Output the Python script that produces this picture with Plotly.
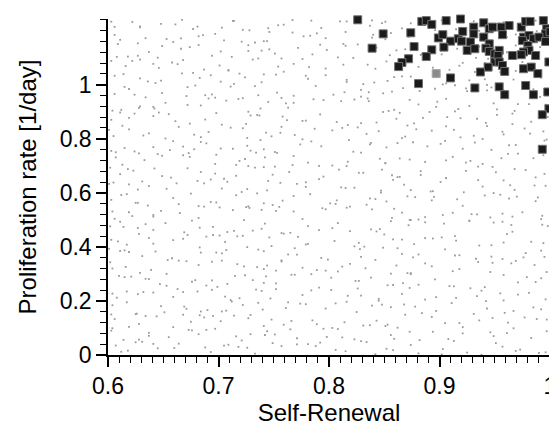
import plotly.graph_objects as go

# ---- accepted parameter sets (black squares) ----
acc_x = [0.826, 0.849, 0.839, 0.874, 0.884, 0.888, 0.893, 0.899, 0.877, 0.893,
         0.888, 0.872, 0.866, 0.863, 0.881,
         0.906, 0.919, 0.903, 0.910, 0.904, 0.917, 0.920, 0.921, 0.931, 0.931,
         0.940, 0.928, 0.925, 0.932, 0.940, 0.945, 0.948, 0.945, 0.942, 0.945,
         0.950, 0.950, 0.944, 0.937, 0.910, 0.932,
         0.956, 0.963, 0.957, 0.974, 0.978, 0.982, 0.994, 0.997, 0.996, 1.000,
         0.976, 0.981, 0.985, 0.990, 0.996, 0.975, 0.980, 0.981, 0.976, 0.987,
         0.954, 0.953, 0.966, 0.974, 0.954, 0.957, 0.959, 0.976, 0.983, 0.989,
         0.999, 0.954, 0.959, 0.978, 0.985, 0.998, 0.999, 0.993, 0.993]
acc_y = [1.240, 1.188, 1.135, 1.192, 1.234, 1.237, 1.223, 1.173, 1.141, 1.129,
         1.104, 1.096, 1.082, 1.067, 1.004,
         1.237, 1.243, 1.185, 1.161, 1.139, 1.170, 1.161, 1.197, 1.213, 1.188,
         1.229, 1.158, 1.127, 1.133, 1.176, 1.207, 1.213, 1.151, 1.135, 1.123,
         1.114, 1.084, 1.065, 1.047, 1.025, 0.988,
         1.213, 1.219, 1.185, 1.213, 1.234, 1.234, 1.237, 1.207, 1.188, 1.196,
         1.176, 1.182, 1.170, 1.176, 1.160, 1.163, 1.145, 1.127, 1.121, 1.108,
         1.127, 1.108, 1.108, 1.111, 1.084, 1.071, 1.049, 1.059, 1.065, 1.041,
         1.084, 0.992, 0.963, 0.997, 0.963, 0.973, 0.911, 0.889, 0.761]

# ---- reference parameter set (gray square) ----
ref_x = [0.897]
ref_y = [1.041]

# ---- sampled parameter space (small gray dots), in thousandths ----
bg_x = [
    612, 874, 733, 951, 688, 806, 641, 990, 757, 903, 625, 842, 718, 969, 781, 660, 925, 705, 858, 792,
    637, 823, 689, 946, 771, 604, 882, 729, 997, 655, 808, 913, 742, 676, 859, 961, 716, 795, 628, 894,
    619, 748, 905, 683, 831, 977, 702, 862, 644, 789, 936, 727, 851, 668, 814, 988, 759, 695, 921, 843,
    651, 797, 942, 707, 868, 626, 763, 985, 684, 839, 911, 740, 603, 878, 816, 959, 722, 671, 897, 774,
    608, 739, 887, 663, 955, 817, 694, 845, 632, 776, 928, 711, 981, 659, 802, 866, 747, 617, 934, 826,
    676, 853, 715, 992, 647, 784, 909, 731, 615, 867, 958, 699, 824, 743, 881, 637, 971, 766, 689, 838,
    629, 744, 918, 671, 808, 965, 735, 856, 602, 789, 893, 717, 946, 664, 833, 986, 752, 694, 874, 812,
    658, 881, 726, 947, 615, 799, 862, 703, 976, 643, 828, 914, 757, 684, 849, 933, 611, 771, 995, 736,
    641, 772, 936, 695, 858, 983, 722, 617, 887, 805, 961, 748, 668, 827, 914, 603, 779, 902, 706, 850,
    683, 819, 957, 634, 791, 874, 708, 998, 652, 846, 927, 765, 614, 887, 731, 965, 803, 676, 843, 742,
    606, 768, 903, 725, 946, 839, 665, 881, 794, 622, 975, 713, 857, 687, 929, 752, 641, 816, 992, 866,
    664, 807, 949, 698, 871, 636, 783, 916, 741, 989, 612, 852, 727, 963, 675, 834, 895, 758, 625, 941,
    627, 756, 892, 681, 964, 823, 708, 847, 601, 779, 935, 721, 868, 653, 901, 996, 744, 687, 815, 958,
    697, 862, 733, 978, 649, 816, 906, 764, 618, 883, 948, 705, 831, 672, 795, 924, 611, 751, 987, 848,
    613, 742, 928, 673, 851, 994, 724, 803, 645, 887, 956, 768, 697, 829, 633, 912, 781, 971, 716, 864,
    656, 793, 939, 702, 876, 624, 818, 963, 741, 689, 905, 852, 607, 774, 997, 729, 838, 668, 921, 784,
    632, 787, 919, 664, 845, 982, 711, 869, 601, 756, 943, 726, 893, 678, 812, 957, 748, 619, 834, 906,
    688, 829, 966, 641, 807, 891, 725, 619, 952, 776, 864, 703, 934, 655, 843, 998, 762, 611, 877, 737,
    604, 761, 897, 718, 952, 836, 672, 914, 795, 628, 981, 745, 859, 691, 927, 768, 642, 823, 968, 881,
    671, 814, 943, 694, 867, 634, 788, 925, 736, 985, 615, 849, 722, 958, 679, 829, 896, 753, 624, 947,
    636, 752, 906, 677, 859, 967, 719, 841, 606, 781, 932, 714, 874, 648, 897, 992, 739, 693, 816, 955,
    701, 866, 731, 975, 646, 822, 909, 768, 622, 881, 944, 709, 835, 668, 797, 921, 616, 757, 986, 852,
    618, 746, 924, 682, 855, 991, 727, 808, 649, 884, 953, 772, 694, 826, 637, 916, 785, 969, 712, 861,
    659, 797, 936, 705, 872, 627, 815, 961, 744, 686, 903, 851, 609, 777, 994, 733, 840, 666, 918, 789,
    629, 784, 915, 667, 848, 979, 714, 866, 603, 759, 940, 722, 890, 681, 810, 954, 745, 622, 837, 902,
    645, 902, 771, 618, 834, 957, 693, 749, 881, 607, 973, 726, 815, 664, 938, 788, 852, 631, 996, 709,
    673, 798, 921, 614, 856, 744, 983, 697, 829, 637, 908, 765, 949, 682, 873, 721, 603, 812, 967, 751,
    606, 837, 714, 962, 659, 785, 893, 628, 948, 741, 869, 675, 997, 803, 634, 918, 766, 687, 853, 729,
    690, 617, 856, 779, 931, 648, 992, 712, 825, 761, 604, 884, 736, 967, 669, 806, 943, 625, 848, 703,
    627, 958, 784, 706, 873, 641, 915, 752, 996, 681, 829, 604, 897, 734, 845, 668, 971, 791, 719, 938,
    610, 741, 896, 653, 827, 979, 708, 769, 941, 634, 858, 724, 987, 679, 802, 913, 621, 752, 874, 694,
    682, 912, 757, 604, 871, 723, 948, 639, 819, 997, 703, 776, 861, 653, 935, 741, 616, 887, 797, 969,
    631, 769, 978, 707, 842, 619, 918, 683, 793, 866, 741, 957, 601, 829, 698, 905, 763, 654, 992, 876,
    659, 823, 717, 958, 628, 894, 781, 672, 947, 746, 609, 866, 994, 701, 832, 637, 915, 759, 877, 689,
    611, 739, 872, 966, 695, 808, 641, 927, 757, 993, 714, 856, 627, 781, 904, 669, 949, 838, 723, 602,
    648, 887, 701, 934, 776, 619, 859, 993, 739, 682, 819, 957, 604, 873, 728, 641, 912, 797, 966, 755,
    693, 617, 842, 768, 921, 659, 987, 735, 806, 603, 878, 749, 955, 627, 837, 716, 893, 682, 970, 801,
    637, 922, 779, 703, 858, 619, 968, 745, 894, 662, 811, 986, 726, 631, 847, 771, 939, 693, 874, 605,
    602, 749, 883, 657, 827, 968, 716, 935, 791, 623, 864, 741, 995, 684, 809, 906, 642, 857, 727, 951,
    674, 851, 628, 906, 767, 985, 698, 817, 649, 939, 734, 873, 607, 791, 962, 719, 846, 668, 924, 753,
    615, 738, 969, 684, 822, 901, 641, 776, 947, 726, 862, 603, 995, 713, 837, 659, 889, 751, 932, 678,
    691, 866, 722, 958, 613, 803, 931, 757, 684, 879, 637, 994, 769, 826, 652, 913, 743, 871, 605, 977,
    624, 779, 907, 674, 861, 735, 983, 646, 817, 758, 942, 698, 603, 885, 729, 966, 792, 661, 849, 919,
    652, 917, 786, 629, 854, 971, 707, 763, 898, 612, 835, 684, 949, 727, 873, 641, 996, 811, 738, 906,
    606, 733, 882, 976, 697, 829, 649, 914, 768, 857, 619, 991, 711, 804, 943, 672, 836, 757, 924, 688,
    683, 831, 614, 927, 759, 866, 702, 988, 643, 797, 941, 724, 853, 667, 903, 779, 629, 958, 816, 741,
    629, 754, 941, 687, 813, 603, 894, 736, 969, 658, 842, 776, 918, 641, 997, 709, 867, 782, 933, 663,
    666, 883, 727, 961, 608, 798, 936, 751, 843, 627, 978, 702, 869, 645, 815, 957, 739, 674, 902, 792,
    611, 746, 872, 697, 924, 783, 653, 988, 721, 839, 606, 907, 767, 947, 682, 856, 634, 813, 969, 741,
    648, 896, 767, 629, 839, 958, 703, 816, 677, 931, 754, 874, 606, 987, 728, 851, 661, 919, 793, 713,
]
bg_y = [
    12, 37, 5, 44, 28, 19, 41, 8, 33, 22, 47, 3, 30, 15, 40, 26, 9, 35, 18, 46,
    71, 58, 93, 84, 62, 99, 55, 77, 88, 66, 96, 52, 74, 91, 60, 81, 69, 97, 57, 86,
    104, 131, 118, 147, 109, 139, 125, 101, 143, 114, 128, 136, 107, 149, 121, 133, 112, 145, 103, 127,
    158, 172, 199, 164, 187, 153, 195, 176, 161, 183, 192, 168, 150, 179, 197, 156, 185, 171, 163, 190,
    212, 237, 205, 244, 228, 219, 241, 208, 233, 222, 247, 203, 230, 215, 240, 226, 209, 235, 218, 246,
    271, 258, 293, 284, 262, 299, 255, 277, 288, 266, 296, 252, 274, 291, 260, 281, 269, 297, 257, 286,
    304, 331, 318, 347, 309, 339, 325, 301, 343, 314, 328, 336, 307, 349, 321, 333, 312, 345, 303, 327,
    358, 372, 399, 364, 387, 353, 395, 376, 361, 383, 392, 368, 350, 379, 397, 356, 385, 371, 363, 390,
    412, 437, 405, 444, 428, 419, 441, 408, 433, 422, 447, 403, 430, 415, 440, 426, 409, 435, 418, 446,
    471, 458, 493, 484, 462, 499, 455, 477, 488, 466, 496, 452, 474, 491, 460, 481, 469, 497, 457, 486,
    504, 531, 518, 547, 509, 539, 525, 501, 543, 514, 528, 536, 507, 549, 521, 533, 512, 545, 503, 527,
    558, 572, 599, 564, 587, 553, 595, 576, 561, 583, 592, 568, 550, 579, 597, 556, 585, 571, 563, 590,
    612, 637, 605, 644, 628, 619, 641, 608, 633, 622, 647, 603, 630, 615, 640, 626, 609, 635, 618, 646,
    671, 658, 693, 684, 662, 699, 655, 677, 688, 666, 696, 652, 674, 691, 660, 681, 669, 697, 657, 686,
    704, 731, 718, 747, 709, 739, 725, 701, 743, 714, 728, 736, 707, 749, 721, 733, 712, 745, 703, 727,
    758, 772, 799, 764, 787, 753, 795, 776, 761, 783, 792, 768, 750, 779, 797, 756, 785, 771, 763, 790,
    812, 837, 805, 844, 828, 819, 841, 808, 833, 822, 847, 803, 830, 815, 840, 826, 809, 835, 818, 846,
    871, 858, 893, 884, 862, 899, 855, 877, 888, 866, 896, 852, 874, 891, 860, 881, 869, 897, 857, 886,
    904, 931, 918, 947, 909, 939, 925, 901, 943, 914, 928, 936, 907, 949, 921, 933, 912, 945, 903, 927,
    958, 972, 999, 964, 987, 953, 995, 976, 961, 983, 992, 968, 950, 979, 997, 956, 985, 971, 963, 990,
    1012, 1037, 1005, 1044, 1028, 1019, 1041, 1008, 1033, 1022, 1047, 1003, 1030, 1015, 1040, 1026, 1009, 1035, 1018, 1046,
    1071, 1058, 1093, 1084, 1062, 1099, 1055, 1077, 1088, 1066, 1096, 1052, 1074, 1091, 1060, 1081, 1069, 1097, 1057, 1086,
    1104, 1131, 1118, 1147, 1109, 1139, 1125, 1101, 1143, 1114, 1128, 1136, 1107, 1149, 1121, 1133, 1112, 1145, 1103, 1127,
    1158, 1172, 1199, 1164, 1187, 1153, 1195, 1176, 1161, 1183, 1192, 1168, 1150, 1179, 1197, 1156, 1185, 1171, 1163, 1190,
    1212, 1237, 1205, 1240, 1228, 1219, 1236, 1208, 1233, 1222, 1239, 1203, 1230, 1215, 1234, 1226, 1209, 1232, 1218, 1238,
    25, 2, 39, 16, 48, 31, 11, 44, 6, 35, 20, 27, 14, 42, 1, 33, 23, 49, 10, 38,
    93, 67, 80, 56, 74, 88, 63, 97, 51, 82, 59, 95, 70, 77, 86, 54, 90, 65, 99, 76,
    133, 110, 146, 120, 103, 128, 141, 115, 137, 107, 149, 123, 131, 100, 144, 118, 126, 139, 112, 148,
    166, 195, 177, 188, 152, 181, 169, 198, 159, 174, 184, 155, 193, 163, 179, 191, 172, 151, 186, 161,
    225, 202, 239, 216, 248, 231, 211, 244, 206, 235, 220, 227, 214, 242, 201, 233, 223, 249, 210, 238,
    293, 267, 280, 256, 274, 288, 263, 297, 251, 282, 259, 295, 270, 277, 286, 254, 290, 265, 299, 276,
    333, 310, 346, 320, 303, 328, 341, 315, 337, 307, 349, 323, 331, 300, 344, 318, 326, 339, 312, 348,
    366, 395, 377, 388, 352, 381, 369, 398, 359, 374, 384, 355, 393, 363, 379, 391, 372, 351, 386, 361,
    425, 402, 439, 416, 448, 431, 411, 444, 406, 435, 420, 427, 414, 442, 401, 433, 423, 449, 410, 438,
    493, 467, 480, 456, 474, 488, 463, 497, 451, 482, 459, 495, 470, 477, 486, 454, 490, 465, 499, 476,
    533, 510, 546, 520, 503, 528, 541, 515, 537, 507, 549, 523, 531, 500, 544, 518, 526, 539, 512, 548,
    566, 595, 577, 588, 552, 581, 569, 598, 559, 574, 584, 555, 593, 563, 579, 591, 572, 551, 586, 561,
    625, 602, 639, 616, 648, 631, 611, 644, 606, 635, 620, 627, 614, 642, 601, 633, 623, 649, 610, 638,
    693, 667, 680, 656, 674, 688, 663, 697, 651, 682, 659, 695, 670, 677, 686, 654, 690, 665, 699, 676,
    733, 710, 746, 720, 703, 728, 741, 715, 737, 707, 749, 723, 731, 700, 744, 718, 726, 739, 712, 748,
    766, 795, 777, 788, 752, 781, 769, 798, 759, 774, 784, 755, 793, 763, 779, 791, 772, 751, 786, 761,
    825, 802, 839, 816, 848, 831, 811, 844, 806, 835, 820, 827, 814, 842, 801, 833, 823, 849, 810, 838,
    893, 867, 880, 856, 874, 888, 863, 897, 851, 882, 859, 895, 870, 877, 886, 854, 890, 865, 899, 876,
    933, 910, 946, 920, 903, 928, 941, 915, 937, 907, 949, 923, 931, 900, 944, 918, 926, 939, 912, 948,
    966, 995, 977, 988, 952, 981, 969, 998, 959, 974, 984, 955, 993, 963, 979, 991, 972, 951, 986, 961,
    1025, 1002, 1039, 1016, 1048, 1031, 1011, 1044, 1006, 1035, 1020, 1027, 1014, 1042, 1001, 1033, 1023, 1049, 1010, 1038,
    1093, 1067, 1080, 1056, 1074, 1088, 1063, 1097, 1051, 1082, 1059, 1095, 1070, 1077, 1086, 1054, 1090, 1065, 1099, 1076,
    1133, 1110, 1146, 1120, 1103, 1128, 1141, 1115, 1137, 1107, 1149, 1123, 1131, 1100, 1144, 1118, 1126, 1139, 1112, 1148,
    1166, 1195, 1177, 1188, 1152, 1181, 1169, 1198, 1159, 1174, 1184, 1155, 1193, 1163, 1179, 1191, 1172, 1151, 1186, 1161,
    1225, 1202, 1239, 1216, 1238, 1231, 1211, 1234, 1206, 1235, 1220, 1227, 1214, 1237, 1201, 1233, 1223, 1240, 1210, 1236,
]

x_ticks = [0.6, 0.7, 0.8, 0.9, 1.0]
x_tick_text = ["0.6", "0.7", "0.8", "0.9", "1"]
y_ticks = [0, 0.2, 0.4, 0.6, 0.8, 1.0]
y_tick_text = ["0", "0.2", "0.4", "0.6", "0.8", "1"]

FONT = "Liberation Sans, Arial, Helvetica, sans-serif"

fig = go.Figure()
fig.add_trace(go.Scatter(
    x=[v / 1000 for v in bg_x], y=[v / 1000 for v in bg_y],
    mode="markers", hoverinfo="skip",
    marker=dict(symbol="square", size=1.8, color="#9a9a9a", line=dict(width=0)),
    cliponaxis=False,
))
fig.add_trace(go.Scatter(
    x=ref_x, y=ref_y, mode="markers",
    marker=dict(symbol="square", size=8, color="#8a8a8a", line=dict(width=1, color="#a8a8a8")),
    cliponaxis=False,
))
fig.add_trace(go.Scatter(
    x=acc_x, y=acc_y, mode="markers",
    marker=dict(symbol="square", size=8, color="#1a1a1a", line=dict(width=1, color="#707070")),
    cliponaxis=False,
))

axis_common = dict(
    showgrid=False, zeroline=False, showline=True, linecolor="black", linewidth=1.5,
    ticks="outside", ticklen=10, tickwidth=1.5, tickcolor="black",
    tickfont=dict(family=FONT, size=23, color="black"),
    title_font=dict(family=FONT, size=24, color="black"),
    mirror=False, ticklabeloverflow="allow",
)

fig.update_xaxes(
    **axis_common,
    range=[0.6, 1.0], tickmode="array", tickvals=x_ticks, ticktext=x_tick_text,
    minor=dict(ticks="outside", ticklen=6, tickwidth=1.2, tickcolor="black", dtick=0.01, tick0=0.6, showgrid=False),
    title_text="Self-Renewal", title_standoff=6,
)
fig.update_yaxes(
    **axis_common,
    range=[0, 1.243], tickmode="array", tickvals=y_ticks, ticktext=y_tick_text,
    minor=dict(ticks="outside", ticklen=6, tickwidth=1.2, tickcolor="black", dtick=0.04, tick0=0, showgrid=False),
    title_text="Proliferation rate [1/day]", title_standoff=16,
)

fig.update_layout(
    width=557, height=427,
    margin=dict(l=100, r=9, t=11, b=80),
    paper_bgcolor="white", plot_bgcolor="white",
    showlegend=False,
    font=dict(family=FONT, color="black"),
)

fig.write_html("out.html")
